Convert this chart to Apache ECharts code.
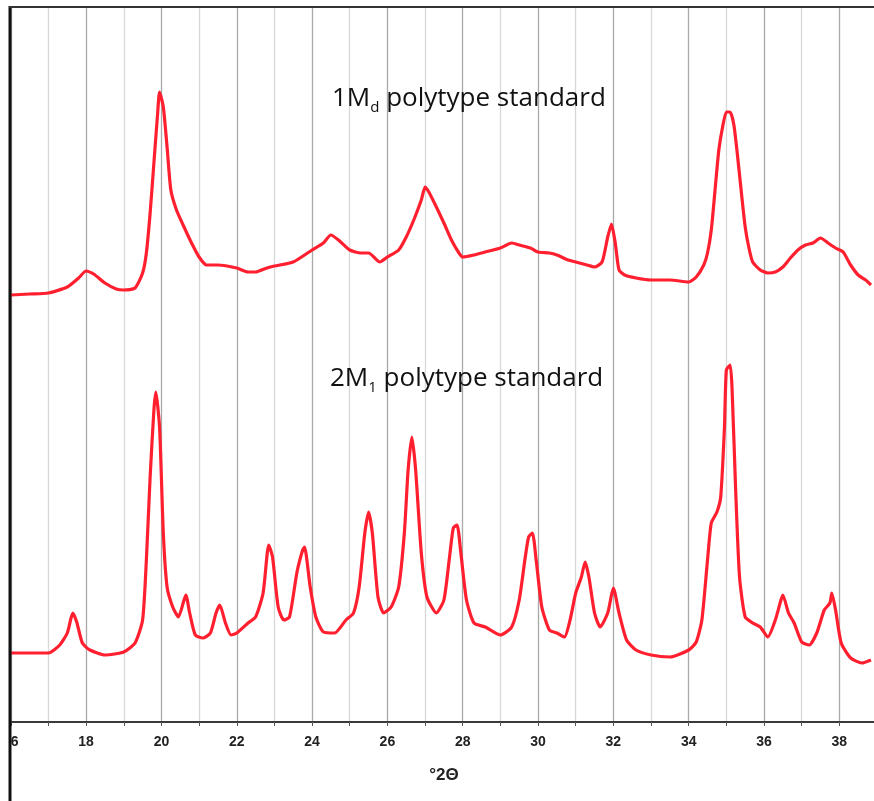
<!DOCTYPE html>
<html>
<head>
<meta charset="utf-8">
<script src="https://cdn.jsdelivr.net/npm/echarts@6/dist/echarts.min.js"></script>
<style>
  html, body { margin: 0; padding: 0; background: #fff; overflow: hidden; }
  #chartmain { width: 880px; height: 801px; }
</style>
</head>
<body>
<div id="chartmain"></div>
<script>
// 2theta tick labels shown on the axis (even degrees only)
var tickLabels = [16, 18, 20, 22, 24, 26, 28, 30, 32, 34, 36, 38];

// 1Md polytype standard (upper trace, offset intensity)
var md_x = [16.0,16.5,17.0,17.5,17.8,18.0,18.2,18.5,18.8,19.0,19.3,19.5,19.6,19.7,19.8,19.9,19.95,20.05,20.15,20.25,20.4,20.6,20.8,21.0,21.2,21.5,22.0,22.3,22.5,22.8,23.0,23.5,24.0,24.3,24.5,24.7,25.0,25.3,25.5,25.8,26.0,26.3,26.5,26.7,26.9,27.0,27.1,27.3,27.5,27.7,27.9,28.0,28.3,28.6,29.0,29.3,29.5,29.8,30.0,30.3,30.5,30.8,31.0,31.3,31.5,31.7,31.85,31.95,32.05,32.15,32.3,32.6,33.0,33.5,34.0,34.2,34.4,34.5,34.6,34.7,34.8,34.9,35.0,35.1,35.2,35.3,35.4,35.5,35.6,35.7,35.9,36.1,36.3,36.5,36.7,36.9,37.1,37.3,37.5,37.7,37.9,38.1,38.3,38.5,38.7,38.84];
var md_y = [427,428,429,435,444,451,448,439,433,432,434,449,469,509,559,609,630,615,575,532,512,495,479,465,457,457,454,450,450,454,456,460,472,479,487,482,472,469,469,460,465,472,485,502,522,535,530,515,499,482,469,465,467,470,474,479,477,474,470,469,467,462,460,457,455,460,485,498,479,452,447,444,442,442,440,445,457,469,492,532,572,595,610,610,597,565,529,495,474,460,452,449,450,455,464,472,477,479,484,479,474,470,457,447,442,437];

// 2M1 polytype standard (lower trace)
var m1_x = [16.0,16.5,17.0,17.3,17.5,17.6,17.65,17.75,17.9,18.1,18.5,19.0,19.3,19.5,19.6,19.7,19.8,19.85,19.95,20.05,20.15,20.3,20.45,20.6,20.65,20.75,20.9,21.1,21.3,21.45,21.55,21.7,21.85,22.0,22.3,22.5,22.7,22.85,22.95,23.1,23.25,23.4,23.6,23.75,23.8,23.95,24.1,24.3,24.6,24.9,25.1,25.25,25.4,25.5,25.6,25.75,25.9,26.1,26.3,26.45,26.55,26.65,26.75,26.9,27.05,27.3,27.5,27.65,27.75,27.85,27.95,28.1,28.3,28.6,29.0,29.3,29.5,29.65,29.75,29.85,29.95,30.1,30.3,30.5,30.7,30.85,31.0,31.15,31.25,31.35,31.5,31.65,31.85,31.95,32.0,32.15,32.35,32.6,33.0,33.5,34.0,34.2,34.35,34.5,34.6,34.75,34.85,34.95,35.0,35.1,35.15,35.25,35.35,35.5,35.7,35.9,36.1,36.3,36.45,36.5,36.65,36.8,37.0,37.2,37.4,37.6,37.75,37.8,37.9,38.05,38.3,38.6,38.84];
var m1_y = [69,69,69,77,89,104,109,100,79,72,67,70,79,102,162,245,312,330,295,189,135,115,105,122,127,109,87,84,89,109,117,99,87,89,99,105,129,177,165,115,102,105,150,172,175,135,105,90,89,102,109,135,189,210,189,125,109,115,135,189,252,285,252,169,125,109,122,165,194,197,169,122,99,95,87,95,122,162,185,189,162,115,92,89,85,102,129,145,160,145,109,95,109,127,134,109,82,72,67,65,72,80,102,162,199,210,225,295,352,357,335,229,145,105,99,95,85,102,122,127,109,99,80,77,89,112,119,129,112,79,64,59,62];

var seriesNames = ['1Md polytype standard', '2M1 polytype standard'];

function pairs(xs, ys) {
    return xs.map(function (x, i) { return [x, ys[i]]; });
}

var red = '#ff1f2f';
var textFont = '"Open Sans", "DejaVu Sans", sans-serif';

var option = {
    backgroundColor: '#fff',
    animation: false,
    grid: { left: 10, right: 0, top: 7, bottom: 79 },
    xAxis: {
        type: 'value',
        min: 16,
        max: 39,
        interval: 1,
        name: '°2Θ',
        nameLocation: 'middle',
        nameGap: 45,
        nameTextStyle: { fontFamily: 'Liberation Sans', fontWeight: 'bold', fontSize: 17, color: '#222' },
        axisLine: { show: true, lineStyle: { color: '#3a3a3a', width: 2 } },
        axisTick: { show: true, length: 4, lineStyle: { color: '#555', width: 1 } },
        axisLabel: {
            margin: 13,
            fontFamily: 'Liberation Sans',
            fontWeight: 'bold',
            fontSize: 14,
            color: '#222',
            formatter: function (v) {
                return tickLabels.indexOf(v) >= 0 ? String(v) : '';
            }
        },
        splitLine: { show: true, lineStyle: { color: ['#a8a8a8', '#d8d8d8'], width: 1.3 } }
    },
    yAxis: {
        type: 'value',
        min: 0,
        max: 715,
        show: false,
        splitLine: { show: false }
    },
    series: [{
        name: seriesNames[0],
        type: 'line',
        data: pairs(md_x, md_y),
        showSymbol: false,
        smooth: 0.2,
        lineStyle: { color: red, width: 3.2 },
        z: 3
    }, {
        name: seriesNames[1],
        type: 'line',
        data: pairs(m1_x, m1_y),
        showSymbol: false,
        smooth: 0.2,
        lineStyle: { color: red, width: 3.2 },
        z: 3
    }],
    graphic: [
        // frame: white strip and black edge on the left, thin line on top
        { type: 'rect', shape: { x: 0, y: 0, width: 9, height: 801 }, style: { fill: '#fff' }, z: 100 },
        { type: 'line', shape: { x1: 10, y1: 6, x2: 10, y2: 801 }, style: { stroke: '#111', lineWidth: 3 }, z: 101 },
        { type: 'line', shape: { x1: 9, y1: 7, x2: 880, y2: 7 }, style: { stroke: '#333', lineWidth: 2 }, z: 101 },
        {
            type: 'text', left: 332, top: 86, z: 50,
            style: {
                text: '{a|1M}{s|d}{a| polytype standard}',
                rich: {
                    a: { fontFamily: textFont, fontSize: 26, fill: '#111' },
                    s: { fontFamily: textFont, fontSize: 15, fill: '#111', padding: [18, 0, 0, 0] }
                }
            }
        },
        {
            type: 'text', left: 330, top: 366, z: 50,
            style: {
                text: '{a|2M}{s|1}{a| polytype standard}',
                rich: {
                    a: { fontFamily: textFont, fontSize: 26, fill: '#111' },
                    s: { fontFamily: textFont, fontSize: 15, fill: '#111', padding: [18, 0, 0, 0] }
                }
            }
        }
    ]
};

var myChart = echarts.init(document.getElementById('chartmain'));
myChart.setOption(option);
</script>
</body>
</html>
